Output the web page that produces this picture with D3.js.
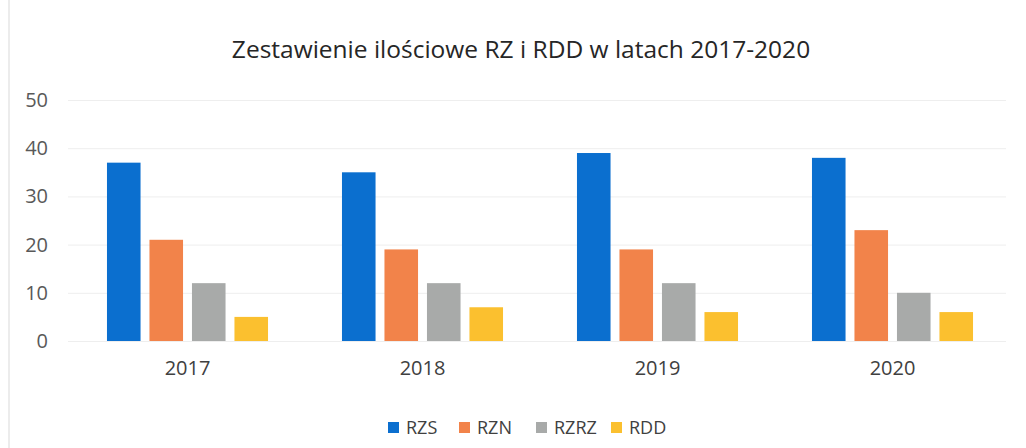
<!DOCTYPE html>
<html>
<head>
<meta charset="utf-8">
<script src="https://cdn.jsdelivr.net/npm/d3@7"></script>
<style>
  body { margin: 0; background: #fff; }
  text { font-family: "Open Sans", sans-serif; }
</style>
</head>
<body>
<div class="chart"></div>
<script>
// Chart data
var years = ["2017", "2018", "2019", "2020"];
var seriesNames = ["RZS", "RZN", "RZRZ", "RDD"];
var rzs = [37, 35, 39, 38];
var rzn = [21, 19, 19, 23];
var rzrz = [12, 12, 12, 10];
var rdd = [5, 7, 6, 6];
var yTicks = [0, 10, 20, 30, 40, 50];
var colors = ["#0b6fcf", "#f2834a", "#a8aaa9", "#fbc02f"];

// Setup chart
var svgWidth = 1026;
var svgHeight = 448;
var margin = { top: 100, right: 16, bottom: 107, left: 70 };
var width = svgWidth - margin.left - margin.right;
var height = svgHeight - margin.top - margin.bottom;

var svg = d3.select(".chart")
  .append("svg")
  .attr("width", svgWidth)
  .attr("height", svgHeight);

// faint scan edge on the left
svg.append("line")
  .attr("x1", 9).attr("x2", 9)
  .attr("y1", 0).attr("y2", svgHeight)
  .attr("stroke", "#ececec")
  .attr("stroke-width", 2);

var chart = svg.append("g")
  .attr("transform", "translate(" + margin.left + "," + margin.top + ")");

// build rows from the series arrays
var allSeries = [rzs, rzn, rzrz, rdd];
var rows = years.map(function(year, i) {
  return {
    year: year,
    values: seriesNames.map(function(name, j) {
      return { name: name, value: allSeries[j][i], color: colors[j] };
    })
  };
});

// Scales
var x0 = d3.scaleBand()
  .domain(years)
  .range([0, width])
  .padding(0);
var x1 = d3.scaleBand()
  .domain(seriesNames)
  .range([0, x0.bandwidth()])
  .paddingInner(0.21)
  .paddingOuter(0.87);
var y = d3.scaleLinear()
  .domain([0, 50])
  .range([height, 0]);

// Gridlines
chart.append("g")
  .selectAll("line")
  .data(yTicks)
  .enter().append("line")
    .attr("x1", -2)
    .attr("x2", width - 4)
    .attr("y1", function(d) { return y(d) + 0.5; })
    .attr("y2", function(d) { return y(d) + 0.5; })
    .attr("stroke", "#eeeeee")
    .attr("stroke-width", 1);

// Y axis labels
var leftAxis = d3.axisLeft(y).tickValues(yTicks).tickSize(0).tickPadding(22);
chart.append("g")
  .call(leftAxis)
  .call(function(g) { g.select(".domain").remove(); })
  .selectAll("text")
    .attr("font-size", "20px")
    .attr("fill", "#595959");

// X axis labels
var bottomAxis = d3.axisBottom(x0).tickSize(0).tickPadding(20);
chart.append("g")
  .attr("transform", "translate(0," + height + ")")
  .call(bottomAxis)
  .call(function(g) { g.select(".domain").remove(); })
  .selectAll("text")
    .attr("font-size", "20px")
    .attr("fill", "#404040");

// Bars
var groups = chart.selectAll(".year")
  .data(rows)
  .enter().append("g")
    .attr("class", "year")
    .attr("transform", function(d) { return "translate(" + x0(d.year) + ",0)"; });

groups.selectAll("rect")
  .data(function(d) { return d.values; })
  .enter().append("rect")
    .attr("x", function(d) { return x1(d.name); })
    .attr("y", function(d) { return y(d.value); })
    .attr("width", x1.bandwidth())
    .attr("height", function(d) { return height - y(d.value); })
    .attr("fill", function(d) { return d.color; });

// Title
svg.append("text")
  .attr("x", 521)
  .attr("y", 58)
  .attr("text-anchor", "middle")
  .attr("font-size", "24.5px")
  .attr("fill", "#262626")
  .text("Zestawienie ilościowe RZ i RDD w latach 2017-2020");

// Legend
var legendX = [388, 459, 536, 611];
var legend = svg.append("g")
  .selectAll("g")
  .data(seriesNames)
  .enter().append("g")
    .attr("transform", function(d, i) { return "translate(" + legendX[i] + ",422)"; });

legend.append("rect")
  .attr("width", 11)
  .attr("height", 11)
  .attr("fill", function(d, i) { return colors[i]; });

legend.append("text")
  .attr("x", 18)
  .attr("y", 11.5)
  .attr("font-size", "18px")
  .attr("fill", "#404040")
  .text(function(d) { return d; });
</script>
</body>
</html>
